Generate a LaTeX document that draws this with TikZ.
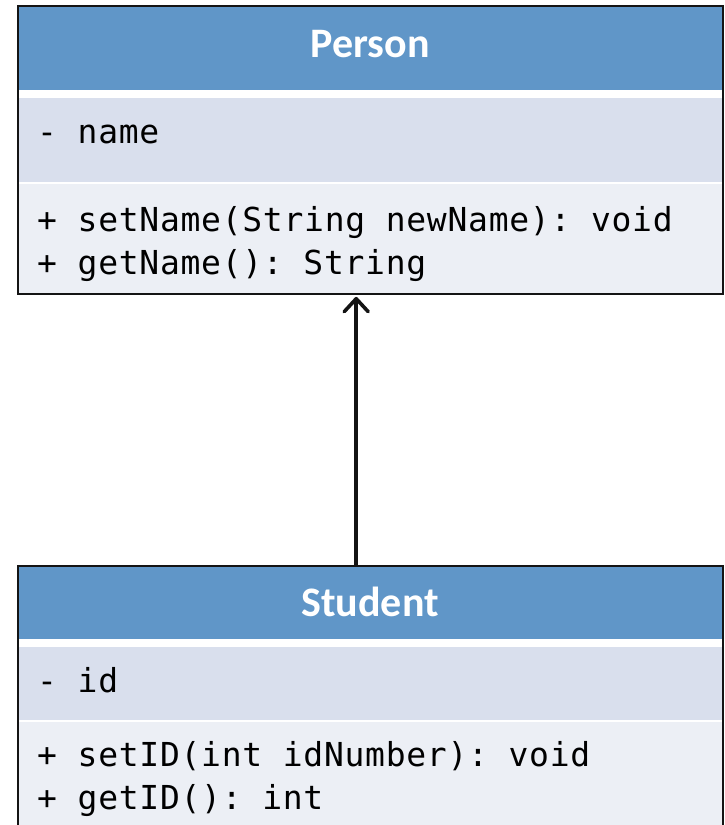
\documentclass[tikz,border=0pt]{standalone}
\usepackage{fontspec}
\usetikzlibrary{arrows.meta}
\newfontfamily\headfont{Carlito}[BoldFont={Carlito Bold}]
\newfontfamily\codefont{DejaVu Sans Mono}[LetterSpace=2.2]
\definecolor{umlhead}{RGB}{96,150,200}
\definecolor{umlattr}{RGB}{217,223,237}
\definecolor{umlmeth}{RGB}{236,239,245}
\definecolor{umlline}{RGB}{20,20,20}
\tikzset{
  part/.style={rectangle, inner sep=0pt, outer sep=0pt, minimum width=705pt, anchor=north west},
  headpart/.style={part, fill=umlhead},
  attrpart/.style={part, fill=umlattr},
  methpart/.style={part, fill=umlmeth},
  frame/.style={rectangle, draw=umlline, line width=2.4pt, inner sep=0pt, minimum width=705pt, anchor=north west},
  title/.style={anchor=base, inner sep=0pt, text=white, font=\headfont\bfseries\fontsize{42}{50}\selectfont},
  member/.style={anchor=base west, inner sep=0pt, font=\codefont\fontsize{33}{40}\selectfont\frenchspacing},
  inherit/.style={line width=3.6pt, umlline, -{Straight Barb[length=13pt,width=24pt,round]}}
}
\begin{document}
\begin{tikzpicture}[x=1pt,y=-1pt]
\useasboundingbox (0,0) rectangle (725,825);
\clip (0,0) rectangle (725,825);

% class Person
\node[headpart, minimum height=85pt] (pHead) at (17,5) {};
\node[attrpart, minimum height=84pt] (pAttr) at (17,98) {};
\node[methpart, minimum height=109pt] (pMeth) at (17,184) {};
\node[frame, minimum height=288pt] (pBox) at (17,5) {};
\node[title] (pName) at (370,57.3) {Person};
\node[member] (pA1) at (37,143) {- name};
\node[member] (pM1) at (37,231) {+ setName(String newName): void};
\node[member] (pM2) at (37,274) {+ getName(): String};

% class Student
\node[headpart, minimum height=74pt] (sHead) at (17,565) {};
\node[attrpart, minimum height=73pt] (sAttr) at (17,647) {};
\node[methpart, minimum height=110pt] (sMeth) at (17,722) {};
\node[frame, minimum height=270pt] (sBox) at (17,565) {};
\node[title] (sName) at (370,616.7) {Student};
\node[member] (sA1) at (37,692) {- id};
\node[member] (sM1) at (37,766) {+ setID(int idNumber): void};
\node[member] (sM2) at (37,809) {+ getID(): int};

% generalisation
\draw[inherit] ([xshift=-14.5pt]sBox.north) -- ([xshift=-14.5pt,yshift=-1.5pt]pBox.south);
\end{tikzpicture}
\end{document}
